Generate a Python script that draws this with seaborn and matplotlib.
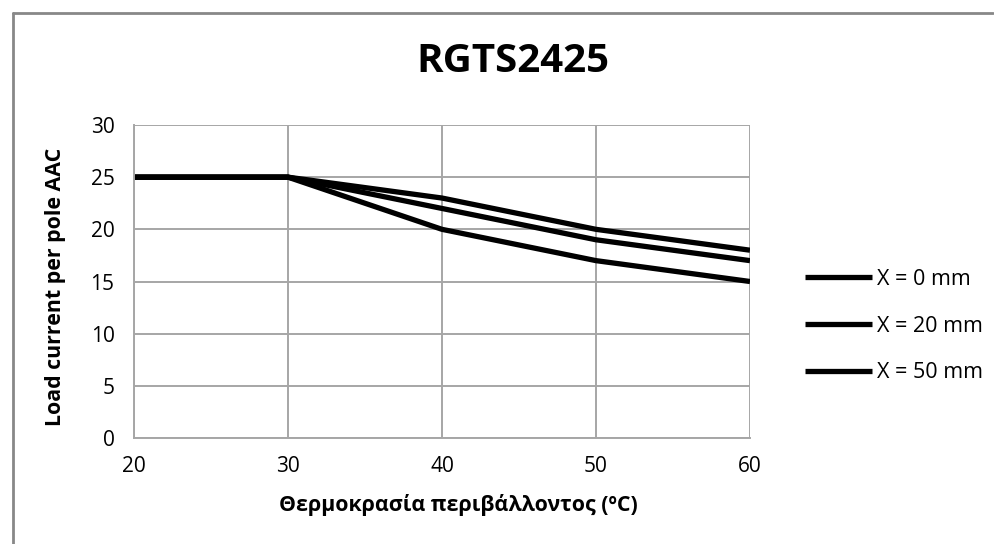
import matplotlib
matplotlib.use("Agg")
import matplotlib.pyplot as plt
import seaborn as sns
import pandas as pd
from matplotlib.lines import Line2D

temps = [20, 30, 40, 50, 60]
series_names = ["X = 0 mm", "X = 20 mm", "X = 50 mm"]
x0_values = [25, 25, 20, 17, 15]
x20_values = [25, 25, 22, 19, 17]
x50_values = [25, 25, 23, 20, 18]
y_ticks = [0, 5, 10, 15, 20, 25, 30]
x_ticks = [20, 30, 40, 50, 60]
title = "RGTS2425"
xlabel = "Θερμοκρασία περιβάλλοντος (ºC)"
ylabel = "Load current per pole AAC"

rows = []
for name, vals in zip(series_names, [x0_values, x20_values, x50_values]):
    for t, v in zip(temps, vals):
        rows.append({"temp": t, "current": v, "series": name})
df = pd.DataFrame(rows)

sns.set_theme(style="white")
plt.rcParams["font.family"] = ["Open Sans", "DejaVu Sans"]
plt.rcParams["text.color"] = "black"
plt.rcParams["axes.labelcolor"] = "black"

W, H = 994, 544
fig = plt.figure(figsize=(W / 100, H / 100), dpi=100)
fig.patch.set_facecolor("white")

ax = fig.add_axes([134 / W, 1 - 438 / H, 616 / W, 313 / H])
sns.lineplot(data=df, x="temp", y="current", hue="series",
             palette=["black"] * 3, linewidth=3.8, ax=ax, legend=False,
             solid_capstyle="butt", solid_joinstyle="round")

grid_c = "#a6a6a6"
ax.set_xlim(20, 60)
ax.set_ylim(0, 30)
ax.set_xticks(x_ticks)
ax.set_yticks(y_ticks)
ax.grid(True, color=grid_c, linewidth=1.4)
ax.set_axisbelow(True)
for s in ["top", "right"]:
    ax.spines[s].set_visible(False)
for s in ["left", "bottom"]:
    ax.spines[s].set_color(grid_c)
    ax.spines[s].set_linewidth(1.4)
ax.tick_params(axis="both", which="major", direction="out", length=6,
               width=1.4, color=grid_c, labelsize=15, labelcolor="black")
ax.tick_params(axis="x", pad=7)
ax.tick_params(axis="y", pad=8)

ax.set_xlabel(xlabel, fontsize=15.4, fontweight="bold", color="black")
ax.xaxis.set_label_coords(458 / W, 1 - 505 / H, transform=fig.transFigure)
ax.xaxis.label.set_va("center")
ax.set_ylabel(ylabel, fontsize=15.4, fontweight="bold", color="black")
ax.yaxis.set_label_coords(55 / W, 1 - 287 / H, transform=fig.transFigure)
ax.yaxis.label.set_va("center")

fig.text(513 / W, 1 - 61 / H, title, fontsize=29, fontweight="bold",
         ha="center", va="center", color="black")

handles = [Line2D([0], [0], color="black", linewidth=3.8, solid_capstyle="butt")
           for _ in series_names]
leg = fig.legend(handles, series_names, loc="center left",
                 bbox_to_anchor=(805 / W, 1 - 326 / H), frameon=False,
                 fontsize=15.5, handlelength=3.1, handletextpad=0.23,
                 labelspacing=1.2, borderaxespad=0, borderpad=0)
for t in leg.get_texts():
    t.set_color("black")

# outer chart border (left and top)
bx = 12.5 / W
by = 1 - 13 / H
fig.add_artist(Line2D([bx, bx], [0, by], transform=fig.transFigure,
                      color="#888888", linewidth=2))
fig.add_artist(Line2D([bx, 993 / W], [by, by], transform=fig.transFigure,
                      color="#888888", linewidth=2))

fig.savefig("out.png", dpi=100, facecolor="white")
